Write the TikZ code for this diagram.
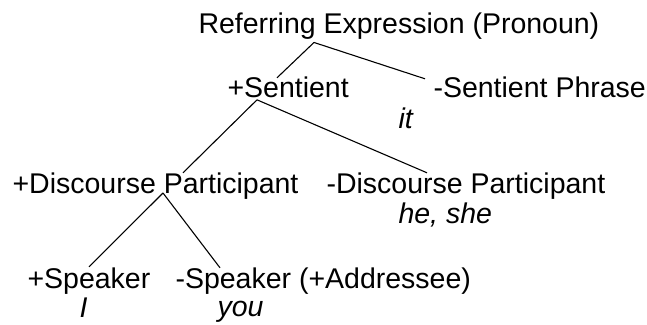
\documentclass[tikz,border=0pt]{standalone}
\usepackage{fontspec}
\setmainfont{Liberation Sans}
\usetikzlibrary{positioning}
\begin{document}
\begin{tikzpicture}[x=1pt, y=-1pt, line width=1.1pt,
    every node/.style={inner sep=0pt, anchor=base west},
    font=\fontsize{28.5}{34}\selectfont]
            \useasboundingbox (0,0) rectangle (647,324);
            \node (1) at (198,33) {Referring Expression (Pronoun)};
            \node (2) at (227,97) {+Sentient};
            \node (3) at (433,97) {-Sentient Phrase};
            \node (3e) at (398,128) {\itshape it};
            \node (4) at (12,193) {+Discourse Participant};
            \node (5) at (326,193) {-Discourse Participant};
            \node (5e) at (398,223) {\itshape he, she};
            \node (6) at (27,288) {+Speaker};
            \node (6e) at (79,317) {\itshape I};
            \node (7) at (175,288) {-Speaker (+Addressee)};
            \node (7e) at (217,316) {\itshape you};
            \path
            ([xshift=116pt,yshift=-3pt]1.south west) edge ([xshift=50pt,yshift=-2pt]2.north west)
            ([xshift=116pt,yshift=-3pt]1.south west) edge ([xshift=-8pt,yshift=-3pt]3.north west)
            ([xshift=30pt,yshift=-2pt]2.south west) edge ([xshift=171pt,yshift=-1pt]4.north west)
            ([xshift=30pt,yshift=-2pt]2.south west) edge ([xshift=101pt,yshift=-1pt]5.north west)
            ([xshift=151pt]4.base west) edge ([xshift=62pt]6.north west)
            ([xshift=151pt]4.base west) edge ([xshift=45pt,yshift=-1pt]7.north west);
        \end{tikzpicture}
\end{document}
